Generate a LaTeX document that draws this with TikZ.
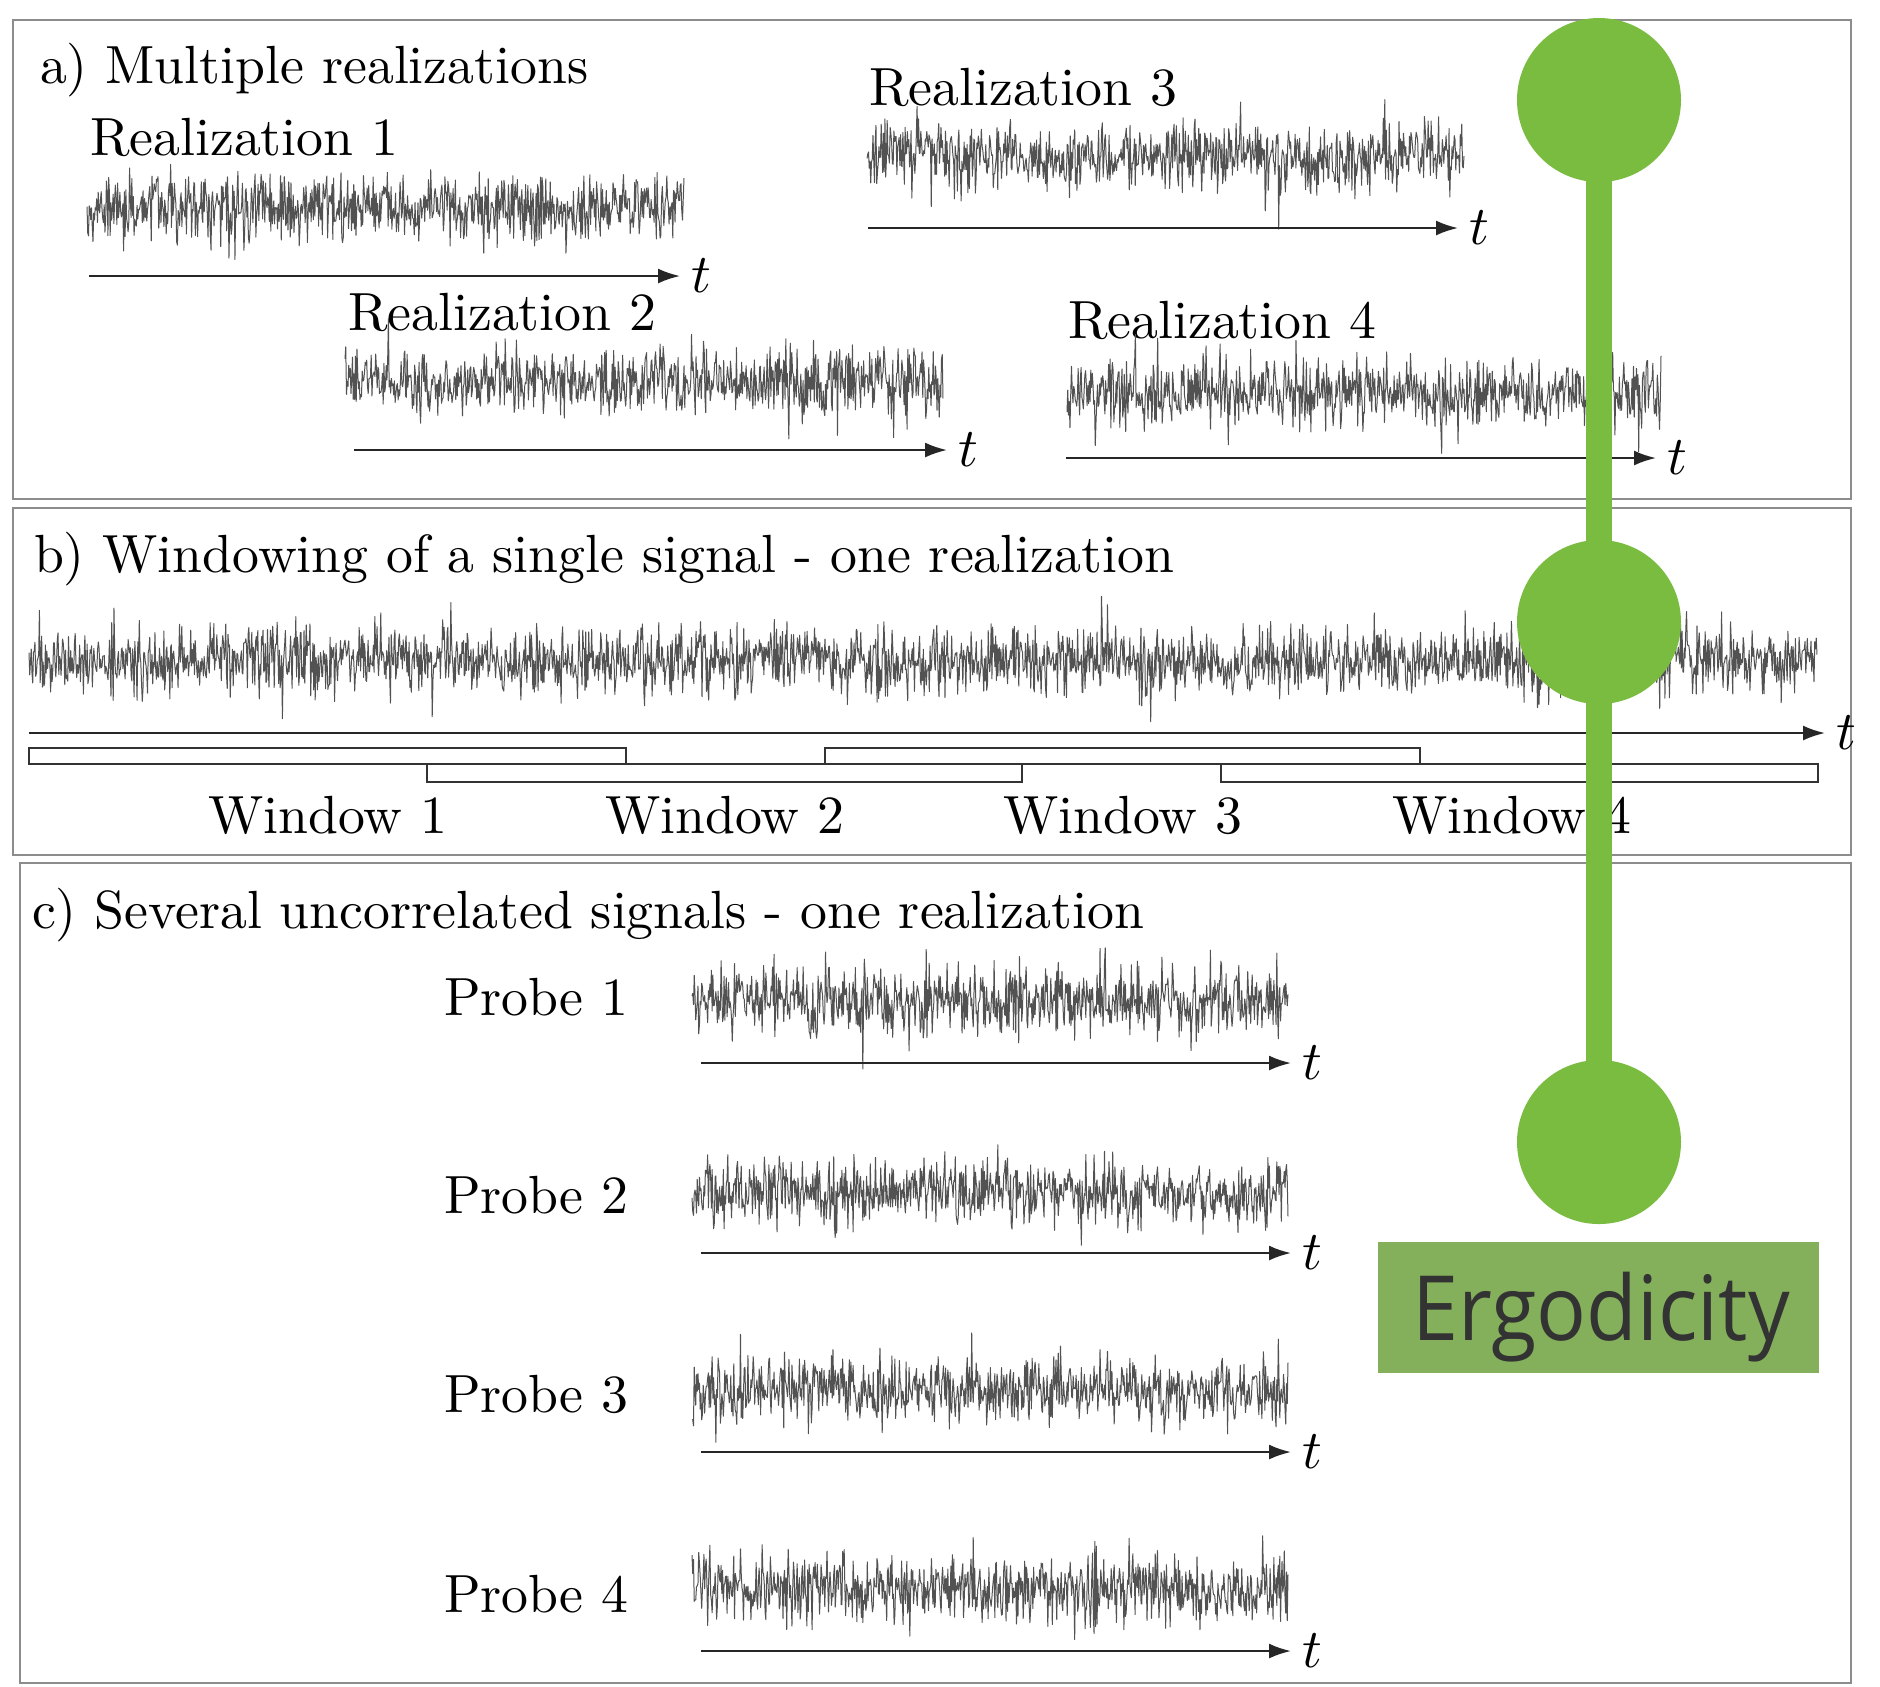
\documentclass[tikz,border=0pt]{standalone}
\usepackage{fontspec}
\usepackage{graphicx}
\usetikzlibrary{arrows.meta}
\newfontfamily\ergofont{Open Sans}
\definecolor{greenA}{RGB}{122,188,64}
\definecolor{greenB}{RGB}{132,175,91}
\definecolor{ergotext}{RGB}{51,51,51}
\definecolor{panelgray}{RGB}{140,140,140}
% #1 x0, #2 x1, #3 centre y, #4 samples, #5 seed
\newcommand\noisesig[5]{%
  \pgfmathsetseed{#5}%
  \draw[sig] plot[domain=#1:#2, samples=#4] (\x,{#3+16*(rand+rand+rand)+37*spk(rand)});
}
% #1 name, #2 x0, #3 x1, #4 y
\newcommand\taxis[4]{%
  \coordinate (#1s) at (#2,#4);
  \coordinate (#1e) at (#3,#4);
  \node[tlab] (#1t) at (#1e) {$t$};
  \draw[axisarrow] (#1s) -- (#1e);
}
\begin{document}
\begin{tikzpicture}[x=0.2pt,y=-0.2pt,
  declare function={spk(\a)=\a*\a*\a*\a*\a*\a*\a*\a*\a*\a*\a*\a*\a*\a*\a;},
  txt/.style={font=\fontsize{10.75}{12.9}\selectfont, inner sep=0pt},
  lbl/.style={txt, anchor=base west},
  panel/.style={draw=panelgray, line width=0.55pt},
  sig/.style={draw=black!68, line width=0.2pt, line join=round},
  axisarrow/.style={draw=black!85, line width=0.45pt, -{Latex[length=4.4pt,width=3pt]}},
  tlab/.style={txt, anchor=west, xshift=2pt},
  win/.style={draw=black!80, line width=0.3pt, fill=white},
  wlab/.style={txt, anchor=base},
  dot/.style={circle, fill=greenA, minimum size=32.8pt, inner sep=0pt},
  ergobox/.style={rectangle, fill=greenB, minimum width=88.2pt, minimum height=26.2pt, inner sep=0pt},
  ergotxt/.style={anchor=base, inner sep=0pt, text=ergotext, font=\ergofont\fontsize{18}{20}\selectfont}
]
\path[use as bounding box, fill=white] (0,0) rectangle (1880,1686);

% panels
\draw[panel] (13,20) rectangle (1851,499);
\draw[panel] (13,508) rectangle (1851,855);
\draw[panel] (20,863) rectangle (1851,1683);

% ---------- panel a ----------
\node[lbl] (ta) at (39,83) {a) Multiple realizations};
\node[lbl] (r1) at (89,155) {Realization 1};
\node[lbl] (r2) at (347,330) {Realization 2};
\node[lbl] (r3) at (868,105) {Realization 3};
\node[lbl] (r4) at (1067,338) {Realization 4};
\noisesig{87}{684}{208}{800}{11}
\noisesig{345}{943}{380}{800}{23}
\noisesig{867}{1464}{157}{800}{37}
\noisesig{1067}{1661}{393}{800}{41}
\taxis{a1}{89}{680}{276}
\taxis{a2}{354}{947}{450}
\taxis{a3}{868}{1458}{228}
\taxis{a4}{1066}{1656}{458}

% ---------- panel b ----------
\node[lbl] (tb) at (33,572) {b) Windowing of a single signal - one realization};
\noisesig{29}{1817}{660}{2400}{57}
\taxis{b1}{29}{1825}{733}
\draw[win] (29,748) rectangle (626,764);
\draw[win] (427,764) rectangle (1022,782);
\draw[win] (825,748) rectangle (1420,764);
\draw[win] (1221,764) rectangle (1818,782);
\node[wlab] (w1) at (328,833) {Window 1};
\node[wlab] (w2) at (725,833) {Window 2};
\node[wlab] (w3) at (1123,833) {Window 3};
\node[wlab] (w4) at (1512,833) {Window 4};

% ---------- panel c ----------
\node[lbl] (tc) at (31,928) {c) Several uncorrelated signals - one realization};
\node[lbl] (p1) at (443,1015) {Probe 1};
\node[lbl] (p2) at (443,1213) {Probe 2};
\node[lbl] (p3) at (443,1412) {Probe 3};
\node[lbl] (p4) at (443,1612) {Probe 4};
\noisesig{692}{1288}{1000}{800}{71}
\noisesig{692}{1288}{1192}{800}{83}
\noisesig{692}{1288}{1390}{800}{97}
\noisesig{692}{1288}{1589}{800}{103}
\taxis{c1}{701}{1291}{1063}
\taxis{c2}{701}{1291}{1253}
\taxis{c3}{701}{1291}{1452}
\taxis{c4}{701}{1291}{1651}

% ---------- ergodicity overlay ----------
\node[dot] (g1) at (1599,100) {};
\node[dot] (g2) at (1599,622) {};
\node[dot] (g3) at (1599,1142) {};
\draw[greenA, line width=5.2pt] (g1.center) -- (g3.center);
\node[ergobox] (eb) at (1598.5,1307.5) {};
\node[ergotxt] (et) at (1601,1340) {\scalebox{0.92}[1]{Ergodicity}};
\end{tikzpicture}
\end{document}
